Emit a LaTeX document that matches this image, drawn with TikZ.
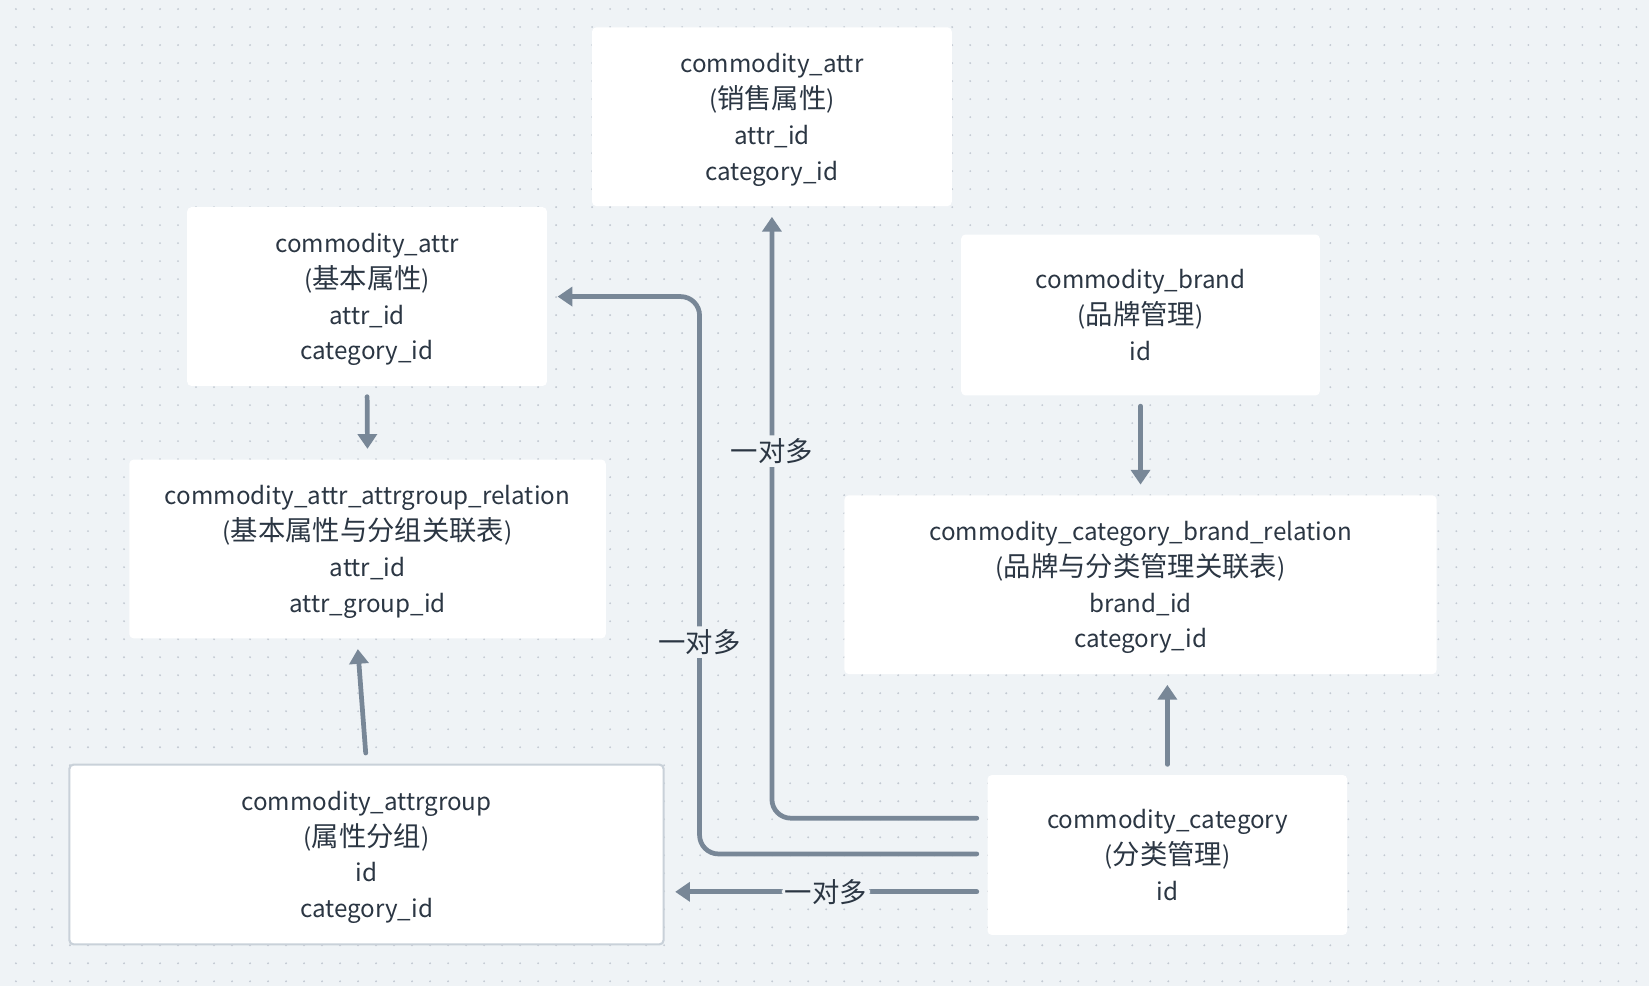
\documentclass[tikz,border=0pt]{standalone}
\usepackage{fontspec}
\setmainfont{Noto Sans CJK SC}
\usepackage{xcolor}
\usepackage{tikz}
\usetikzlibrary{positioning, arrows.meta, calc}
\definecolor{bgPaper}{HTML}{EFF3F6}
\definecolor{gridDot}{HTML}{C2C9D2}
\definecolor{lineGray}{HTML}{788797}
\definecolor{boxText}{HTML}{2B3643}
\definecolor{boxEdge}{HTML}{C9D1D9}
\newcommand{\zh}[1]{{\fontsize{26}{34}\selectfont #1}}

\begin{document}
\begin{tikzpicture}[x=1pt, y=-1pt,
    every node/.style={font=\fontsize{23}{34}\selectfont, text=boxText},
    tbl/.style={fill=white, rounded corners=4pt, align=center, inner sep=0pt, text depth=0pt},
    link/.style={lineGray, line width=4.5pt, line cap=round, rounded corners=18pt,
      -{Triangle[length=14pt, width=18pt]}, shorten <=10pt, shorten >=10pt},
    lbl/.style={fill=bgPaper, inner sep=3pt}]
        % Paper and dot grid
        \fill[bgPaper] (0,0) rectangle (1568,938);
        \foreach \i in {0,...,90} {
          \foreach \j in {0,...,54} {
            \fill[gridDot] (15.2+17.12*\i, 8.6+17.12*\j) circle (1pt);
          }
        }
        % Tables
        \node[tbl, minimum width=342pt, minimum height=170pt] (saleattr) at (734,111)
          {commodity\_attr\\(\zh{销售属性})\\attr\_id\\category\_id};
        \node[tbl, minimum width=342pt, minimum height=170pt] (baseattr) at (349,282)
          {commodity\_attr\\(\zh{基本属性})\\attr\_id\\category\_id};
        \node[tbl, minimum width=453pt, minimum height=170pt] (attrrel) at (349.5,522)
          {commodity\_attr\_attrgroup\_relation\\(\zh{基本属性与分组关联表})\\attr\_id\\attr\_group\_id};
        \node[tbl, draw=boxEdge, line width=2pt, minimum width=565pt, minimum height=171pt] (attrgroup) at (348.5,812.5)
          {commodity\_attrgroup\\(\zh{属性分组})\\id\\category\_id};
        \node[tbl, minimum width=341pt, minimum height=153pt] (brand) at (1084.5,299.5)
          {commodity\_brand\\(\zh{品牌管理})\\id};
        \node[tbl, minimum width=563pt, minimum height=170pt] (catbrand) at (1084.5,556)
          {commodity\_category\_brand\_relation\\(\zh{品牌与分类管理关联表})\\brand\_id\\category\_id};
        \node[tbl, minimum width=342pt, minimum height=152pt] (category) at (1110,813)
          {commodity\_category\\(\zh{分类管理})\\id};
        % Short links
        \draw[link] (baseattr.south) -- (attrrel.north);
        \draw[link] (brand.south) -- (catbrand.north);
        \draw[link] (attrgroup.north) -- ([xshift=-10pt]attrrel.south);
        \draw[link] (category.north) -- (category.north |- catbrand.south);
        % One-to-many links from category
        \draw[link] ([yshift=35pt]category.west) -| node[lbl, pos=0.8] (otm1) {\zh{一对多}} (saleattr.south);
        \draw[link] ([yshift=1pt]category.west) -| node[lbl, pos=0.69] (otm2) {\zh{一对多}}
          ([xshift=145pt]baseattr.east) -- (baseattr.east);
        \coordinate (catlow) at ([yshift=-35pt]category.west);
        \draw[link] (catlow) -- node[lbl] (otm3) {\zh{一对多}} (catlow -| attrgroup.east);
      \end{tikzpicture}
\end{document}
